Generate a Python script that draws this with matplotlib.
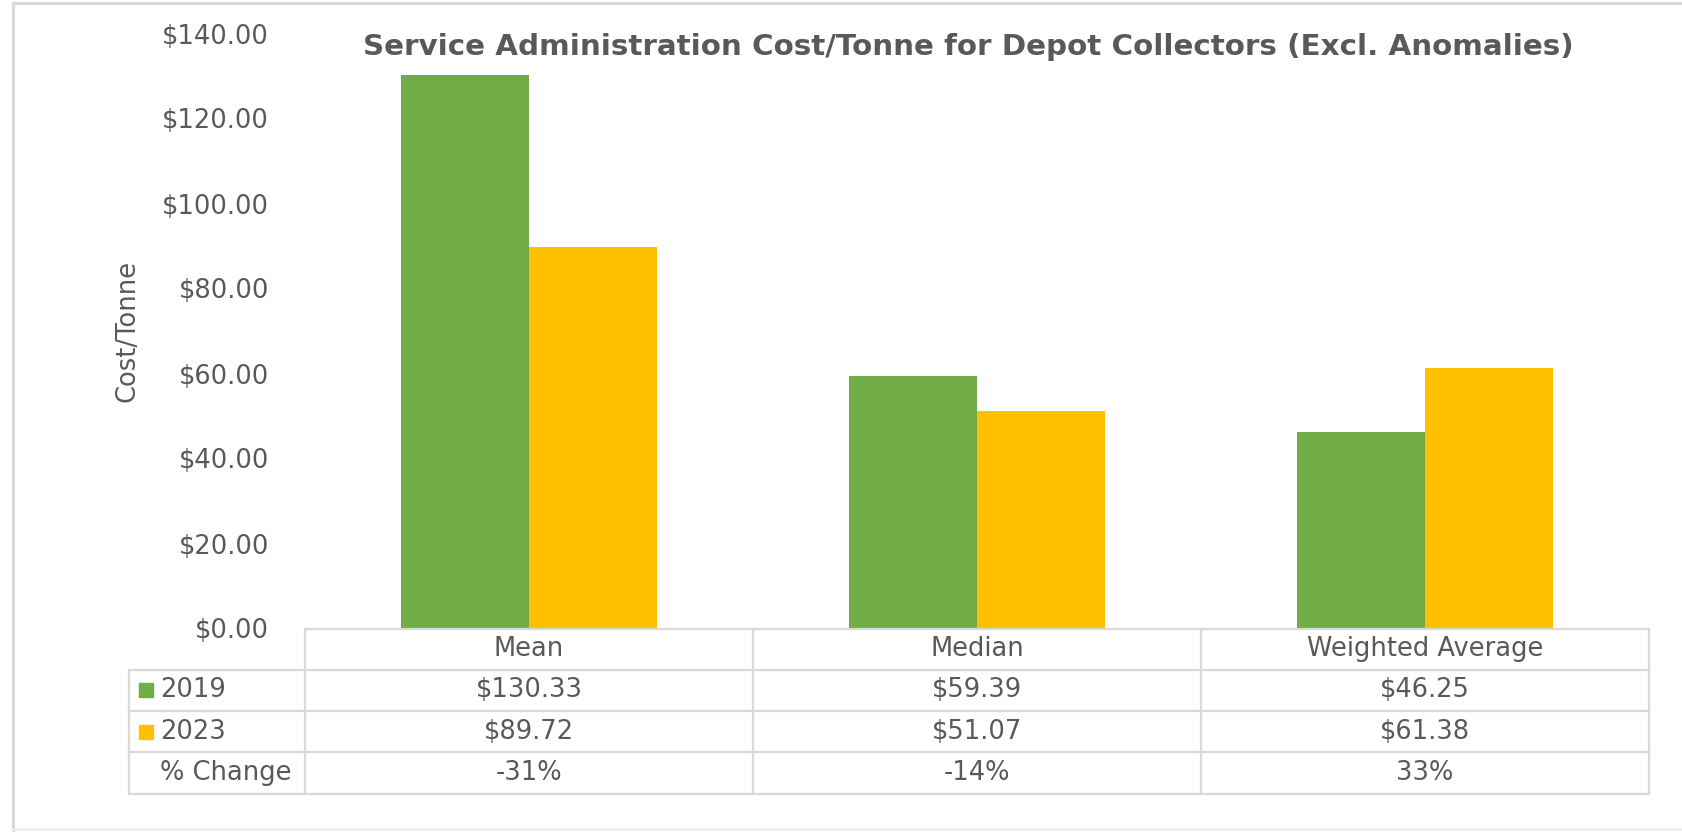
import matplotlib.pyplot as plt
from matplotlib.lines import Line2D

# chart data
categories = ["Mean", "Median", "Weighted Average"]
years = ["2019", "2023"]
cost_2019 = [130.33, 59.39, 46.25]
cost_2023 = [89.72, 51.07, 61.38]
pct_change = ["-31%", "-14%", "33%"]
colors = ["#70AD47", "#FFC000"]

TEXT = "#595959"
GRID = "#D9D9D9"
W, H = 1683, 832

plt.rcParams["font.family"] = "DejaVu Sans"

fig = plt.figure(figsize=(W / 100, H / 100), dpi=100)

# plot area in pixels
left, right = 305, 1649
top, zero = 33.5, 628.5
ax = fig.add_axes([left / W, 1 - zero / H, (right - left) / W, (zero - top) / H])

n = len(categories)
x = list(range(n))
bw = 128 / 448
ax.bar([i - bw / 2 for i in x], cost_2019, width=bw, color=colors[0], label=years[0])
ax.bar([i + bw / 2 for i in x], cost_2023, width=bw, color=colors[1], label=years[1])

ax.set_xlim(-0.5, n - 0.5)
ax.set_ylim(0, 140)
ax.set_yticks(range(0, 141, 20))
ax.set_yticklabels([f"${v:.2f}" for v in range(0, 141, 20)], fontsize=18.5, color=TEXT)
ax.tick_params(axis="y", length=0, pad=26)
ax.set_xticks([])
for s in ax.spines.values():
    s.set_visible(False)

# data table under the bars
rh = 41.3 / (zero - top)
legx = (129 - left) / (right - left)
lkw = dict(transform=ax.transAxes, color=GRID, lw=1.6, clip_on=False)
for i in range(n + 1):
    ax.add_line(Line2D([i / n, i / n], [0, -4 * rh], **lkw))
ax.add_line(Line2D([legx, legx], [-rh, -4 * rh], **lkw))
ax.add_line(Line2D([0, 1], [0, 0], **lkw))
for r in range(1, 5):
    ax.add_line(Line2D([legx, 1], [-r * rh, -r * rh], **lkw))

tkw = dict(transform=ax.transAxes, fontsize=18.5, color=TEXT, ha="center", va="center")
rows = [
    categories,
    [f"${v:.2f}" for v in cost_2019],
    [f"${v:.2f}" for v in cost_2023],
    pct_change,
]
for r, row in enumerate(rows):
    for i, val in enumerate(row):
        ax.text((i + 0.5) / n, -(r + 0.5) * rh, val, **tkw)

# row headers with colour keys
keyx = (146 - left) / (right - left)
labx = (160 - left) / (right - left)
for r, (yr, c) in enumerate(zip(years, colors), start=1):
    ax.plot([keyx], [-(r + 0.5) * rh], marker="s", ms=9.5, color=c,
            transform=ax.transAxes, clip_on=False)
    ax.text(labx, -(r + 0.5) * rh, yr, **{**tkw, "ha": "left"})
ax.text(labx, -3.5 * rh, "% Change", **{**tkw, "ha": "left"})

fig.text(128 / W, 1 - 331 / H, "Cost/Tonne", rotation=90, ha="center", va="center",
         fontsize=18.5, color=TEXT)
fig.text(968 / W, 1 - 47 / H,
         "Service Administration Cost/Tonne for Depot Collectors (Excl. Anomalies)",
         ha="center", va="center", fontsize=21.2, fontweight="bold", color=TEXT)

# chart frame
fkw = dict(transform=fig.transFigure, color=GRID, lw=2.2)
fig.add_artist(Line2D([13 / W, 13 / W], [0, 1 - 3 / H], **fkw))
fig.add_artist(Line2D([13 / W, 1], [1 - 3 / H, 1 - 3 / H], **fkw))
fig.add_artist(Line2D([13 / W, 1], [1 - 829 / H, 1 - 829 / H], color="#EDEDED",
                      lw=2, transform=fig.transFigure))

fig.savefig("out.png", dpi=100, facecolor="white")
